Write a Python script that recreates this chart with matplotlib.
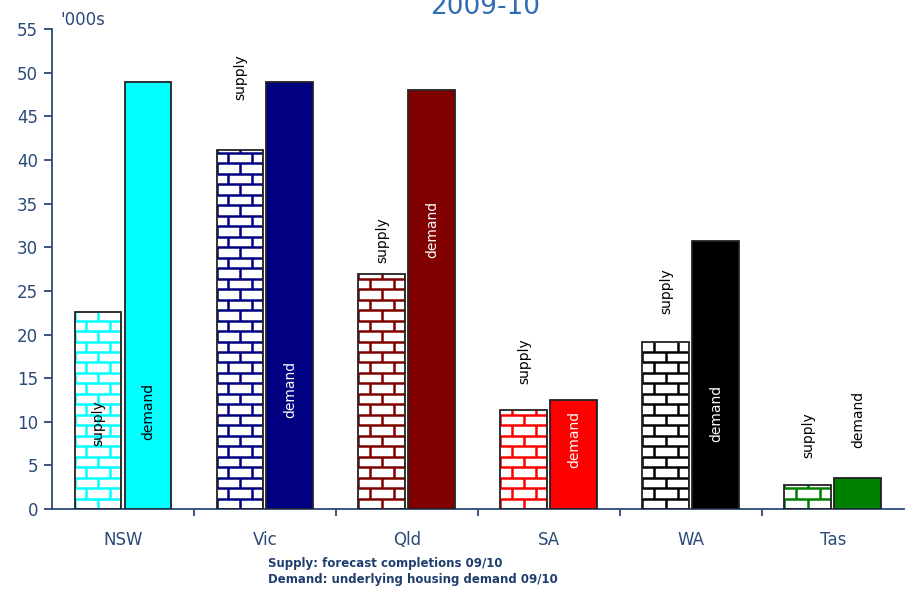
import numpy as np
import matplotlib.pyplot as plt
from matplotlib.collections import LineCollection

# data ('000s)
states = ['NSW', 'Vic', 'Qld', 'SA', 'WA', 'Tas']
supply = [22.6, 41.1, 26.9, 11.3, 19.1, 2.75]
demand = [48.9, 48.9, 48.0, 12.5, 30.7, 3.55]
colors = ['#00ffff', '#000080', '#800000', '#ff0000', '#000000', '#008000']
demand_txt = ['black', 'white', 'white', 'white', 'white', 'black']
# label centre heights (data units)
supply_lab_y = [9.8, 49.5, 30.8, 17.0, 25.0, 8.5]
demand_lab_y = [11.2, 13.7, 32.0, 8.0, 11.0, 10.3]

axis_col = '#2b4a78'

fig = plt.figure(figsize=(9.12, 5.92), dpi=100)
ax = fig.add_axes([0.057, 0.140, 0.934, 0.811])

x = np.arange(len(states))
w = 0.33
off = 0.176


def bricks(ax, bar, color):
    # brick pattern drawn inside a bar, clipped to it
    x0, y0 = bar.get_x(), bar.get_y()
    bw, bh = bar.get_width(), bar.get_height()
    rh = 1.2           # row height
    brw = bw / 2.0     # brick width
    segs = []
    y = y0
    row = 0
    while y < y0 + bh:
        segs.append([(x0, y), (x0 + bw, y)])
        start = x0 + (brw / 2.0 if row % 2 else 0.0)
        xx = start
        while xx <= x0 + bw + 1e-9:
            segs.append([(xx, y), (xx, y + rh)])
            xx += brw
        y += rh
        row += 1
    lc = LineCollection(segs, colors=color, linewidths=1.8, zorder=2.5)
    ax.add_collection(lc)
    lc.set_clip_path(bar)


for i in range(len(states)):
    b1 = ax.bar(x[i] - off, supply[i], w, color='white', edgecolor='none', zorder=2)[0]
    bricks(ax, b1, colors[i])
    ax.bar(x[i] - off, supply[i], w, fill=False, edgecolor='#222222', linewidth=1.3, zorder=3)
    ax.bar(x[i] + off, demand[i], w, color=colors[i], edgecolor='#222222', linewidth=1.3, zorder=3)
    ax.text(x[i] - off, supply_lab_y[i], 'supply', rotation=90, ha='center', va='center',
            fontsize=10, color='black', zorder=4)
    ax.text(x[i] + off, demand_lab_y[i], 'demand', rotation=90, ha='center', va='center',
            fontsize=10, color=demand_txt[i], zorder=4)

ax.set_xlim(-0.5, len(states) - 0.5)
ax.set_ylim(0, 55)
ax.set_yticks(np.arange(0, 56, 5))

ax.set_xticks(np.arange(-0.5, len(states), 1.0)[1:-1])
ax.set_xticklabels([])
ax.set_xticks(x, minor=True)
ax.set_xticklabels(states, minor=True)
ax.tick_params(axis='x', which='major', direction='out', length=5, width=1.3, color=axis_col)
ax.tick_params(axis='x', which='minor', length=0, pad=16, labelsize=12, labelcolor=axis_col)
ax.tick_params(axis='y', direction='out', length=6, width=1.3, color=axis_col,
               labelsize=12, labelcolor=axis_col, pad=4)

for s in ['top', 'right']:
    ax.spines[s].set_visible(False)
for s in ['left', 'bottom']:
    ax.spines[s].set_color(axis_col)
    ax.spines[s].set_linewidth(1.3)

fig.text(0.066, 1 - 20 / 592, "'000s", fontsize=12, color=axis_col, va='center', ha='left')
fig.text(0.532, 1 - 14 / 592, '2009-10', fontsize=19, color='#2f6db5', ha='center', va='baseline')

fig.text(268 / 912, 1 - 563 / 592, 'Supply: forecast completions 09/10', fontsize=8.5,
         fontweight='bold', color='#1f3e6e', va='center', ha='left')
fig.text(268 / 912, 1 - 580 / 592, 'Demand: underlying housing demand 09/10', fontsize=8.5,
         fontweight='bold', color='#1f3e6e', va='center', ha='left')

fig.savefig('out.png', dpi=100)
